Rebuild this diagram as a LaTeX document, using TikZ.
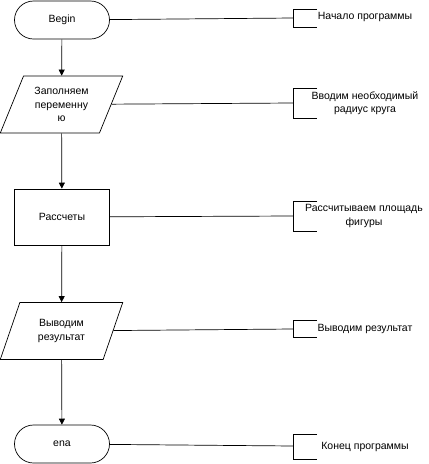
\documentclass[tikz,border=0pt]{standalone}
\usepackage{fontspec}
\setmainfont{Liberation Sans}
\usetikzlibrary{shapes.geometric,arrows.meta}
\begin{document}
\begin{tikzpicture}[x=1pt,y=-1pt,line width=0.7pt,font=\fontsize{10.5}{13.3}\selectfont,
  term/.style={draw, rectangle, rounded corners=19pt, minimum width=95pt, minimum height=38pt, inner sep=0pt},
  io/.style={draw, trapezium, trapezium left angle=64, trapezium right angle=116, trapezium stretches=true, minimum width=123pt, minimum height=57pt, inner sep=0pt, align=center},
  proc/.style={draw, rectangle, minimum width=95pt, minimum height=56pt, inner sep=0pt},
  note/.style={align=center, inner sep=0pt},
  flow/.style={-{Triangle[length=6pt,width=6pt]}}]
\useasboundingbox (0,0) rectangle (429,464);
\node[term] (blk0) at (62,20){Begin};
\node[io] (blk1) at (61.5,104.5){Заполняем\\переменну\\ю};
\node[proc] (blk2) at (62,217){Рассчеты};
\node[io] (blk3) at (61.5,331){Выводим\\результат};
\node[term] (blk4) at (62,444){ena};
\draw[flow](blk0) -- (blk1);
\draw[flow](blk1) -- (blk2);
\draw[flow](blk2) -- (blk3);
\draw[flow](blk3) -- (blk4);

\coordinate (cm0) at (293,18);
\coordinate (cm1) at (293,103);
\coordinate (cm2) at (293,216);
\coordinate (cm3) at (293,329);
\coordinate (cm4) at (293,446);
\draw[](blk0) -- (cm0);
\draw[](blk1) -- (cm1);
\draw[](blk2) -- (cm2);
\draw[](blk3) -- (cm3);
\draw[](blk4) -- (cm4);
\draw (cm0) ++(24,-9) -- ++(-24,0) -- ++(0,18) -- ++(24,0);
\draw (cm1) ++(24,-15) -- ++(-24,0) -- ++(0,30) -- ++(24,0);
\draw (cm2) ++(24,-15) -- ++(-24,0) -- ++(0,30) -- ++(24,0);
\draw (cm3) ++(24,-9) -- ++(-24,0) -- ++(0,17) -- ++(24,0);
\draw (cm4) ++(24,-12) -- ++(-24,0) -- ++(0,25) -- ++(24,0);
\node[note] (cmt0) at (365,17){Начало программы};
\node[note] (cmt1) at (365,103){Вводим необходимый\\радиус круга};
\node[note] (cmt2) at (364,216){Рассчитываем площадь\\фигуры};
\node[note] (cmt3) at (365,329){Выводим результат};
\node[note] (cmt4) at (365,447){Конец программы};
\end{tikzpicture}
\end{document}
